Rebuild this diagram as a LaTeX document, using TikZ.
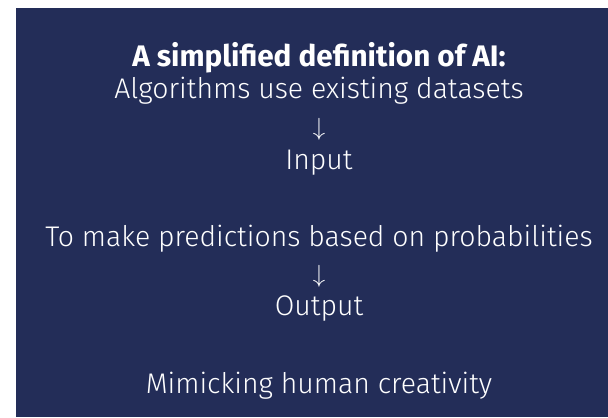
\documentclass[tikz,border=0pt]{standalone}
\usepackage{fontspec}
\setmainfont{Fira Sans}[UprightFont={* Light}, BoldFont={* Bold}]
\definecolor{bgnavy}{HTML}{232D58}
\begin{document}
\begin{tikzpicture}[x=1bp,y=-1bp,
  txt/.style={text=white, inner sep=0pt, anchor=center, font=\fontsize{28.5}{32}\selectfont},
  ttl/.style={txt, font=\fontsize{29.8}{32}\selectfont\bfseries},
  arr/.style={txt, font=\fontsize{30}{32}\selectfont}]
\useasboundingbox (0,0) rectangle (608,417);
\fill[white] (0,0) rectangle (608,417);
\fill[bgnavy] (16,8) rectangle (608,417);
\node[ttl] (title) at (319,58) {A simplified definition of AI:};
\node[txt] (alg) at (319,91) {Algorithms use existing datasets};
\node[arr] (a1) at (319,129) {$\downarrow$};
\node[txt] (inp) at (319,163) {Input};
\node[txt] (pred) at (319,239) {To make predictions based on probabilities};
\node[arr] (a2) at (319,276) {$\downarrow$};
\node[txt] (out) at (319,309) {Output};
\node[txt] (mim) at (319,386) {Mimicking human creativity};
\end{tikzpicture}
\end{document}
